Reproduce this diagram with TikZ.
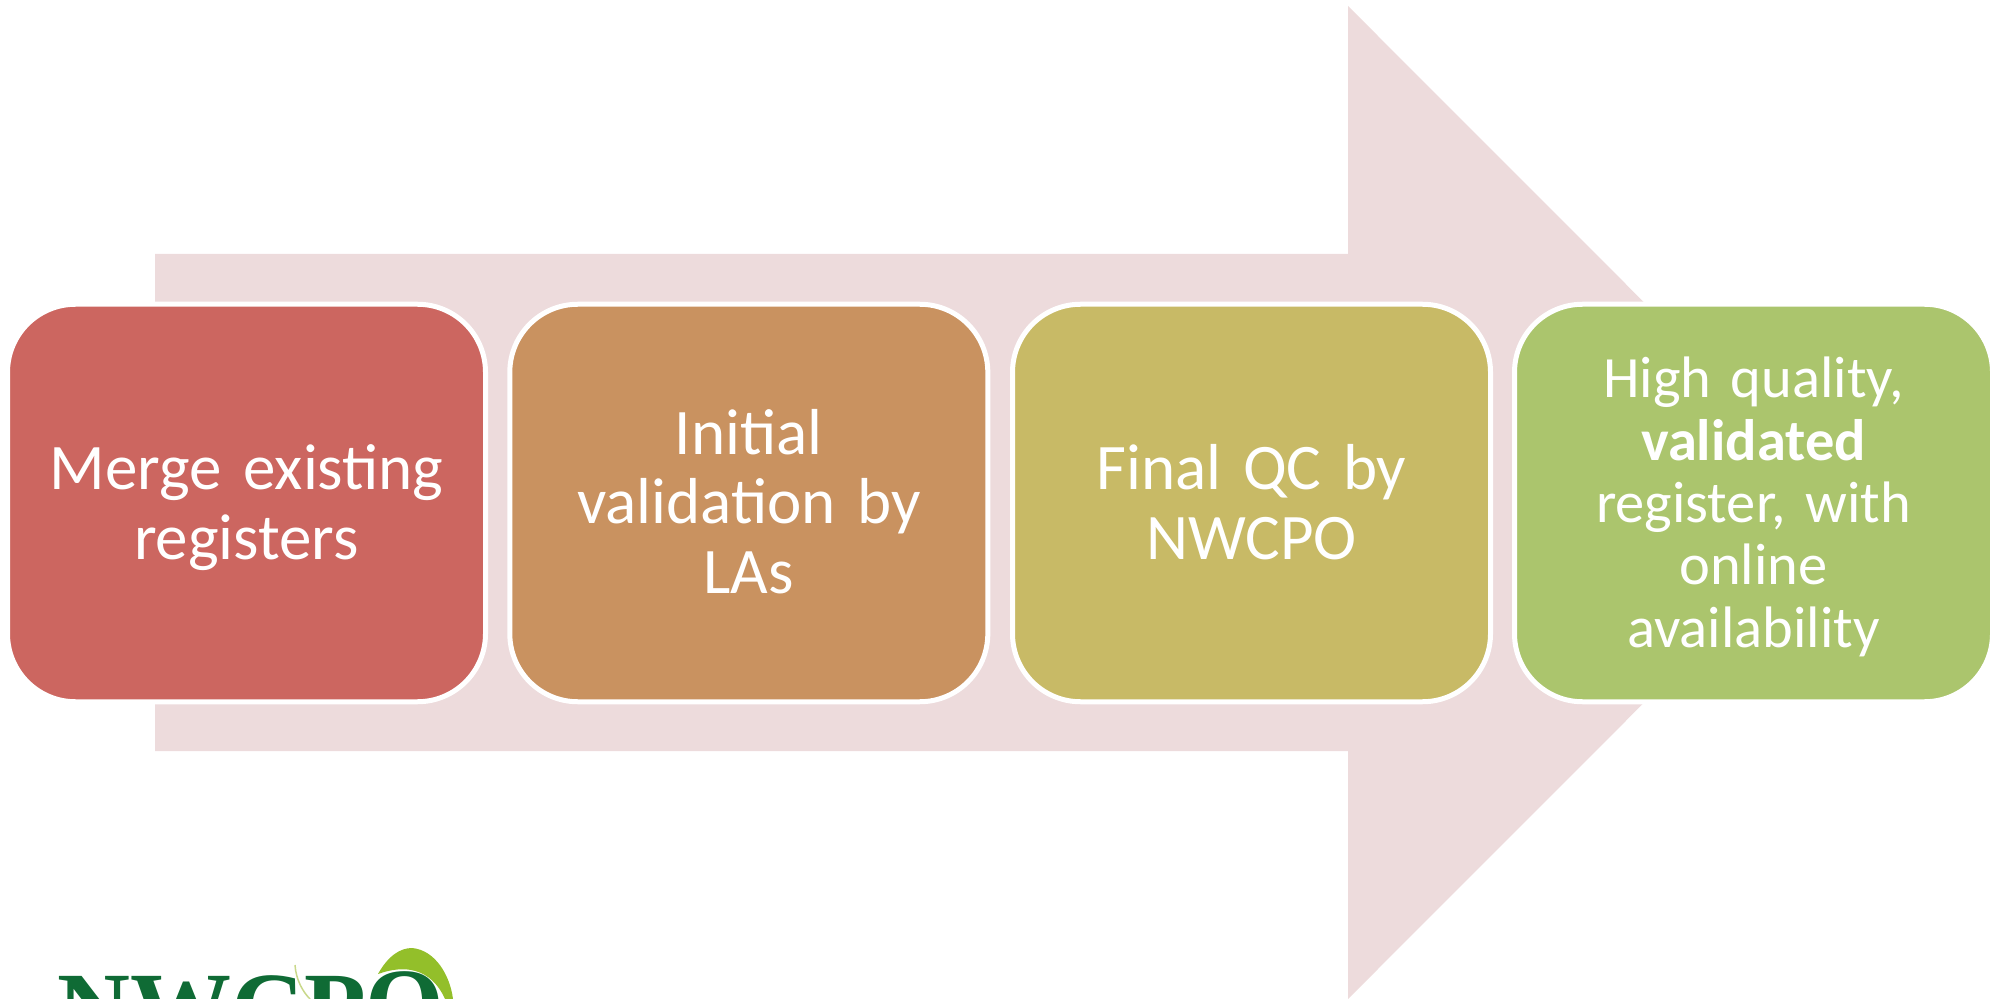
\documentclass[tikz,border=0pt]{standalone}
\usepackage{fontspec}
\setmainfont{Carlito}[Ligatures=Common]
\newfontfamily\logofont{Liberation Serif}
\definecolor{arrowpink}{HTML}{EDDBDC}
\definecolor{boxred}{HTML}{CC6660}
\definecolor{boxorange}{HTML}{C99260}
\definecolor{boxolive}{HTML}{C8BA66}
\definecolor{boxgreen}{HTML}{ABC56D}
\definecolor{logogreen}{HTML}{0F6B35}
\definecolor{leafgreen}{HTML}{93BF2A}
\definecolor{leafpale}{HTML}{C9D88A}
\newcommand{\topstrut}[1]{\rule{0pt}{#1pt}}
\newcommand{\botstrut}{\rule[-10pt]{0pt}{10pt}}
\tikzset{
  stepbox/.style={draw=white, line width=2.5pt, rounded corners=34pt, minimum width=239pt, minimum height=198.75pt, inner sep=0pt, text=white, align=center, font=\fontsize{32.5}{34.75}\selectfont, text width=220pt},
  smallbox/.style={stepbox, font=\fontsize{29.25}{31.15}\selectfont},
}
\begin{document}
\begin{tikzpicture}[x=0.5pt,y=-0.5pt]
\useasboundingbox (0,0) rectangle (1995,999);
\clip (0,0) rectangle (1995,999);
\fill[arrowpink] (155,254) -- (1348,254) -- (1348,6) -- (1844,502.5) -- (1348,999) -- (1348,751) -- (155,751) -- cycle;
\node[stepbox, fill=boxred] (b1) at (246.5,503) {\topstrut{31.5}Merge existing\\registers\botstrut};
\node[stepbox, fill=boxorange] (b2) at (748.8,503) {\topstrut{31}Initial\\validation by\\LAs\botstrut};
\node[stepbox, fill=boxolive] (b3) at (1251.5,503) {\topstrut{31.5}Final QC by\\NWCPO\botstrut};
\node[smallbox, fill=boxgreen] (b4) at (1753.5,503) {\topstrut{29.5}High quality,\\\textbf{validated}\\register, with\\online\\availability\botstrut};
\fill[leafgreen] (378,974) .. controls (388,956) and (400,948) .. (412,948) .. controls (435,950) and (450,975) .. (453,999) -- (445,999) .. controls (438,983) and (420,959) .. (378,974) -- cycle;
\draw[leafpale, line width=0.75pt] (295,965) .. controls (296,980) and (303,992) .. (310,999);
\node[anchor=base west, inner sep=0pt, text=logogreen, font=\logofont\bfseries\fontsize{50.5}{50.5}\selectfont] (logo) at (57,1042) {NWCP\raisebox{2pt}{O}};
\end{tikzpicture}
\end{document}
